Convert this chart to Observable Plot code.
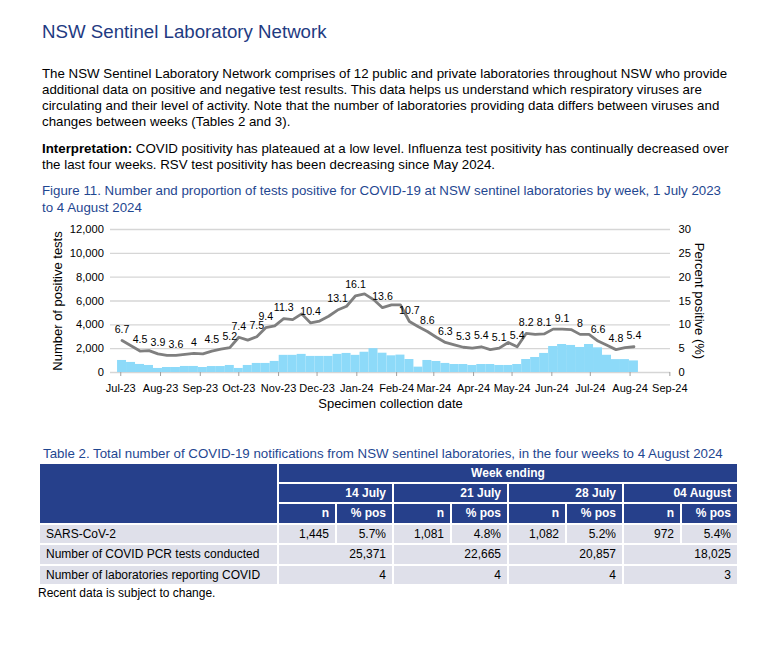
<!DOCTYPE html>
<html>
<head>
<meta charset="utf-8">
<script src="https://cdn.jsdelivr.net/npm/d3@7"></script>
<script src="https://cdn.jsdelivr.net/npm/@observablehq/plot@0.6"></script>
<style>
  html, body { margin: 0; padding: 0; background: #fff; }
  body { width: 770px; height: 647px; position: relative; font-family: "Liberation Sans", Arial, sans-serif; color: #000; overflow: hidden; }
  .abs { position: absolute; white-space: nowrap; }
  #title { left: 42px; top: 21px; font-size: 18.7px; line-height: 22px; color: #1f3b82; }
  #para1 { left: 42px; top: 66px; font-size: 13.3px; line-height: 16px; }
  #para2 { left: 42px; top: 141px; font-size: 13.3px; line-height: 16px; }
  #figcap { left: 42px; top: 181.5px; font-size: 13.3px; line-height: 17px; color: #1f4791; }
  #chart { left: 0px; top: 220px; }
  #tabcap { left: 43px; top: 446px; font-size: 13.3px; line-height: 16px; color: #1f4791; }
  #tab { left: 38px; top: 462px; }
  #note { left: 38px; top: 585px; font-size: 12px; line-height: 16px; }
  table { border-collapse: collapse; table-layout: fixed; font-size: 12px; }
  th, td { border: 2px solid #fff; height: 18.5px; padding: 0 6px; text-align: right; white-space: nowrap; line-height: 14px; }
  th { background: #26408b; color: #fff; font-weight: bold; }
  td { background: #dfe0ea; }
  td.lab { text-align: left; padding-left: 6px; }
  th.center { text-align: center; }
  tr.r1 th { height: 17.5px; }
</style>
</head>
<body>
<div id="title" class="abs">NSW Sentinel Laboratory Network</div>
<div id="para1" class="abs">The NSW Sentinel Laboratory Network comprises of 12 public and private laboratories throughout NSW who provide<br>additional data on positive and negative test results. This data helps us understand which respiratory viruses are<br>circulating and their level of activity. Note that the number of laboratories providing data differs between viruses and<br>changes between weeks (Tables 2 and 3).</div>
<div id="para2" class="abs"><b>Interpretation:</b> COVID positivity has plateaued at a low level. Influenza test positivity has continually decreased over<br>the last four weeks. RSV test positivity has been decreasing since May 2024.</div>
<div id="figcap" class="abs">Figure 11. Number and proportion of tests positive for COVID-19 at NSW sentinel laboratories by week, 1 July 2023<br>to 4 August 2024</div>
<div id="chart" class="abs"></div>
<div id="tabcap" class="abs">Table 2. Total number of COVID-19 notifications from NSW sentinel laboratories, in the four weeks to 4 August 2024</div>
<div id="tab" class="abs"></div>
<div id="note" class="abs">Recent data is subject to change.</div>
<script>
// ---- Chart data ----
const weekEnding = [
  "2023-07-02","2023-07-09","2023-07-16","2023-07-23","2023-07-30",
  "2023-08-06","2023-08-13","2023-08-20","2023-08-27",
  "2023-09-03","2023-09-10","2023-09-17","2023-09-24",
  "2023-10-01","2023-10-08","2023-10-15","2023-10-22","2023-10-29",
  "2023-11-05","2023-11-12","2023-11-19","2023-11-26",
  "2023-12-03","2023-12-10","2023-12-17","2023-12-24","2023-12-31",
  "2024-01-07","2024-01-14","2024-01-21","2024-01-28",
  "2024-02-04","2024-02-11","2024-02-18","2024-02-25",
  "2024-03-03","2024-03-10","2024-03-17","2024-03-24","2024-03-31",
  "2024-04-07","2024-04-14","2024-04-21","2024-04-28",
  "2024-05-05","2024-05-12","2024-05-19","2024-05-26",
  "2024-06-02","2024-06-09","2024-06-16","2024-06-23","2024-06-30",
  "2024-07-07","2024-07-14","2024-07-21","2024-07-28",
  "2024-08-04"
];
const positives = [
  1010, 845, 676, 590, 340, 420, 420, 507, 507, 420,
  500, 500, 590, 340, 590, 760, 760, 930, 1440, 1440,
  1520, 1350, 1350, 1350, 1520, 1600, 1440, 1700, 2000, 1620,
  1400, 1460, 1090, 450, 1010, 925, 760, 670, 670, 590,
  670, 670, 590, 590, 670, 1090, 1260, 1600, 2180, 2350,
  2270, 2100, 2350, 2070, 1445, 1081, 1082, 972
];
const percentPositive = [
  6.7, 5.6, 4.5, 4.6, 3.9, 3.6, 3.6, 3.8, 4.0, 3.9,
  4.5, 4.9, 5.2, 7.4, 6.8, 7.5, 9.4, 9.8, 11.3, 11.1,
  12.3, 10.4, 10.8, 11.8, 13.1, 13.9, 16.1, 16.5, 15.3, 13.6,
  14.2, 14.2, 10.7, 9.6, 8.6, 7.4, 6.3, 5.8, 5.3, 5.1,
  5.4, 4.8, 5.1, 6.3, 5.4, 8.2, 8.0, 8.1, 9.1, 9.1,
  9.0, 8.0, 8.0, 6.6, 5.7, 4.8, 5.2, 5.4
];
const pointLabels = [
  "6.7","","4.5","","3.9","","3.6","","4","",
  "4.5","","5.2","7.4","","7.5","9.4","","11.3","",
  "","10.4","","","13.1","","16.1","","","13.6",
  "","","10.7","","8.6","","6.3","","5.3","",
  "5.4","","5.1","","5.4","8.2","","8.1","","9.1",
  "","8","","6.6","","4.8","","5.4"
];
const countTicks = [0, 2000, 4000, 6000, 8000, 10000, 12000];
const percentTicks = [0, 5, 10, 15, 20, 25, 30];
const monthTicks = [
  "2023-07-01","2023-08-01","2023-09-01","2023-10-01","2023-11-01","2023-12-01",
  "2024-01-01","2024-02-01","2024-03-01","2024-04-01","2024-05-01","2024-06-01",
  "2024-07-01","2024-08-01","2024-09-01"
];
const yTitleLeft = "Number of positive tests";
const yTitleRight = "Percent positive (%)";
const xTitle = "Specimen collection date";

// ---- Table data ----
const tableWeeks = ["14 July", "21 July", "28 July", "04 August"];
const tableN = [1445, 1081, 1082, 972];
const tablePct = [5.7, 4.8, 5.2, 5.4];
const tableTests = [25371, 22665, 20857, 18025];
const tableLabs = [4, 4, 4, 3];
const tableRowLabels = ["SARS-CoV-2", "Number of COVID PCR tests conducted", "Number of laboratories reporting COVID"];

// ---- Build chart ----
const countMax = countTicks[countTicks.length - 1];
const pctMax = percentTicks[percentTicks.length - 1];
const pctToCount = countMax / pctMax;
const halfWeek = 3.5 * 864e5;
const data = weekEnding.map((w, i) => ({
  date: new Date(w), positives: positives[i], percent: percentPositive[i], label: pointLabels[i]
}));

const chart = Plot.plot({
  width: 730,
  height: 195,
  marginLeft: 110,
  marginRight: 60,
  marginTop: 9,
  marginBottom: 43,
  style: { fontFamily: "'Liberation Sans', Arial, sans-serif", fontSize: "11.2px", color: "#000", background: "transparent", overflow: "visible" },
  x: { type: "utc", domain: [new Date("2023-06-23"), new Date("2024-09-01T12:00")] },
  y: { domain: [0, countMax] },
  marks: [
    Plot.ruleY(countTicks, { stroke: "#d6d6d6", strokeWidth: 1.3 }),
    Plot.rectY(data, {
      x1: d => new Date(+d.date - halfWeek),
      x2: d => new Date(+d.date + halfWeek),
      y: "positives",
      fill: "#8ddaf9"
    }),
    Plot.lineY(data, { x: "date", y: d => d.percent * pctToCount, stroke: "#7f7f7f", strokeWidth: 2.8 }),
    Plot.text(data.filter(d => d.label), {
      x: "date", y: d => d.percent * pctToCount, text: "label", dy: -11, fontSize: 10.6, fill: "#000"
    }),
    Plot.axisY({ ticks: countTicks, tickFormat: d3.format(","), tickSize: 0, tickPadding: 6.5, label: null, fontSize: 11.2 }),
    Plot.axisY({ anchor: "right", ticks: percentTicks.map(p => p * pctToCount), tickFormat: d => d / pctToCount, tickSize: 0, tickPadding: 8, label: null, fontSize: 11.2 }),
    Plot.axisX({ ticks: monthTicks.map(m => new Date(m)), tickFormat: d3.utcFormat("%b-%y"), tickSize: 4, tickPadding: 8, stroke: "#a0a0a0", label: null, fontSize: 11 }),
    Plot.text([yTitleLeft], { frameAnchor: "left", rotate: -90, dx: -52.5, textAnchor: "middle", lineAnchor: "middle", fontSize: 13 }),
    Plot.text([yTitleRight], { frameAnchor: "right", rotate: 90, dx: 29, textAnchor: "middle", lineAnchor: "middle", fontSize: 13 }),
    Plot.text([xTitle], { frameAnchor: "bottom", dy: 31.5, textAnchor: "middle", lineAnchor: "middle", fontSize: 13 })
  ]
});
document.getElementById("chart").appendChild(chart);

// ---- Build table ----
const fmt = d3.format(",");
let html = '<table><colgroup><col style="width:239px">' + tableWeeks.map(() => '<col style="width:58px"><col style="width:57px">').join("") + '</colgroup>';
html += '<tr class="r1"><th rowspan="3"></th><th colspan="' + (tableWeeks.length * 2) + '" class="center">Week ending</th></tr>';
html += '<tr>' + tableWeeks.map(w => '<th colspan="2">' + w + '</th>').join("") + '</tr>';
html += '<tr>' + tableWeeks.map(() => '<th>n</th><th>% pos</th>').join("") + '</tr>';
html += '<tr><td class="lab">' + tableRowLabels[0] + '</td>' + tableN.map((n, i) => '<td>' + fmt(n) + '</td><td>' + tablePct[i].toFixed(1) + '%</td>').join("") + '</tr>';
html += '<tr><td class="lab">' + tableRowLabels[1] + '</td>' + tableTests.map(t => '<td colspan="2">' + fmt(t) + '</td>').join("") + '</tr>';
html += '<tr><td class="lab">' + tableRowLabels[2] + '</td>' + tableLabs.map(l => '<td colspan="2">' + l + '</td>').join("") + '</tr>';
html += '</table>';
document.getElementById("tab").innerHTML = html;
</script>
</body>
</html>
